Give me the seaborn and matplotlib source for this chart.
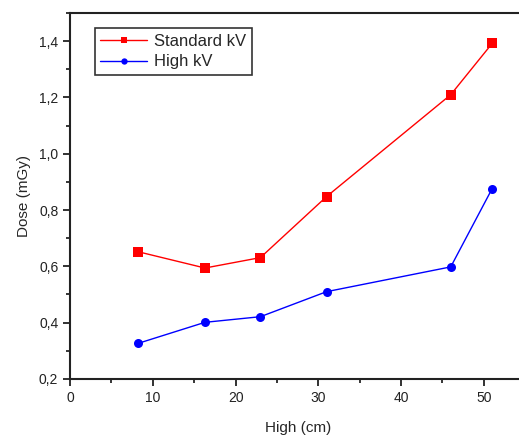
import pandas as pd
import matplotlib.pyplot as plt
import seaborn as sns
from matplotlib.ticker import MultipleLocator, FuncFormatter

# Values
height_cm = [8.2, 16.3, 23, 31, 46, 51]
standard_kv = [0.652, 0.594, 0.631, 0.848, 1.21, 1.392]
high_kv = [0.326, 0.401, 0.421, 0.51, 0.598, 0.876]

data = pd.DataFrame({
    "High (cm)": height_cm * 2,
    "Dose (mGy)": standard_kv + high_kv,
    "Series": ["Standard kV"] * len(height_cm) + ["High kV"] * len(height_cm),
})

sns.set_style("ticks")
plt.rcParams["font.family"] = ["Liberation Sans", "DejaVu Sans"]

fig = plt.figure(figsize=(5.19, 4.36), dpi=100)
ax = fig.add_axes([0.135, 0.131, 0.877, 0.839])

sns.lineplot(
    data=data, x="High (cm)", y="Dose (mGy)", hue="Series", style="Series",
    palette={"Standard kV": "#ff0000", "High kV": "#0000ff"},
    markers={"Standard kV": "s", "High kV": "o"}, dashes=False,
    markersize=6.5, markeredgewidth=0, linewidth=1.0, ax=ax,
)

ax.set_xlim(0, 55)
ax.set_ylim(0.2, 1.5)
ax.xaxis.set_major_locator(MultipleLocator(10))
ax.xaxis.set_minor_locator(MultipleLocator(5))
ax.yaxis.set_major_locator(MultipleLocator(0.2))
ax.yaxis.set_minor_locator(MultipleLocator(0.1))
ax.yaxis.set_major_formatter(FuncFormatter(lambda v, p: f"{v:.1f}".replace(".", ",")))

ax.tick_params(which="major", direction="out", length=5, width=1.3, labelsize=10, colors="#222222")
ax.tick_params(which="minor", direction="out", length=3, width=1.3)
for side in ["left", "bottom", "top"]:
    ax.spines[side].set_linewidth(1.5)
    ax.spines[side].set_color("#222222")
ax.spines["right"].set_visible(False)

ax.set_xlabel("High (cm)", fontsize=11, labelpad=12)
ax.set_ylabel("Dose (mGy)", fontsize=11, labelpad=6)

leg = ax.legend(loc="upper left", bbox_to_anchor=(0.054, 0.96), borderaxespad=0, fontsize=12,
                frameon=True, fancybox=False, edgecolor="black", markerscale=0.7,
                handlelength=2.8, handletextpad=0.4, borderpad=0.35, labelspacing=0.35)
leg.get_frame().set_linewidth(1.2)

fig.savefig("out.png", dpi=100)
